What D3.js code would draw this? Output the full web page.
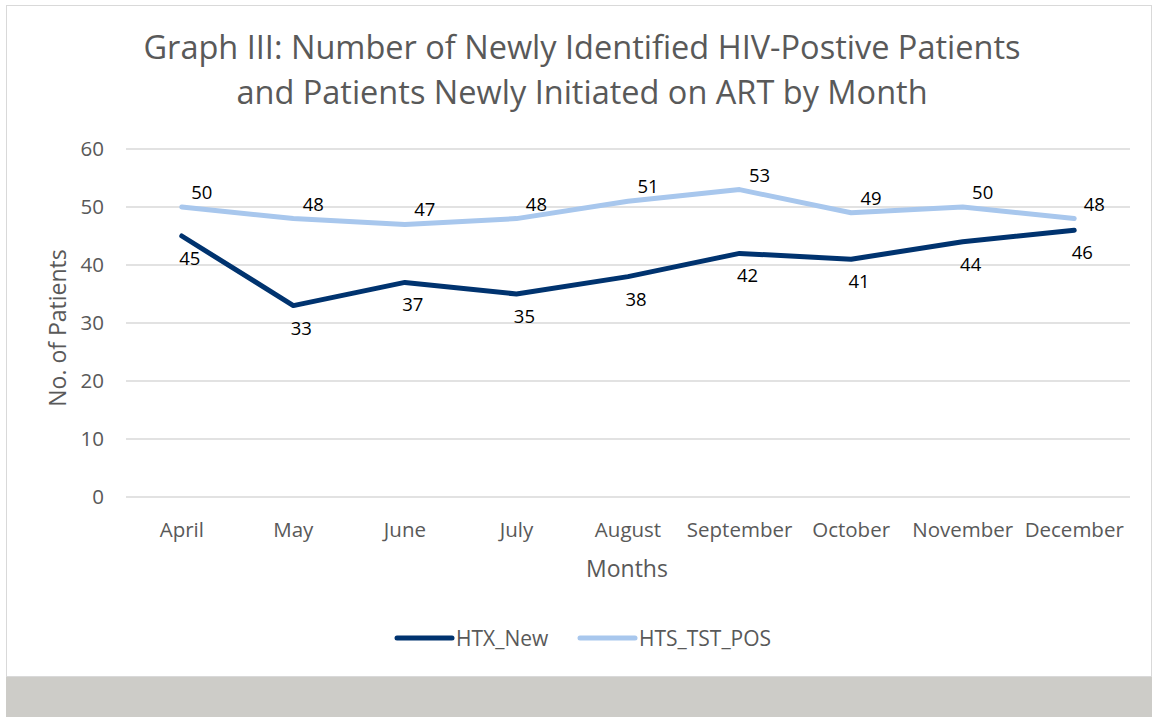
<!DOCTYPE html>
<html>
<head>
<meta charset="utf-8">
<script src="https://cdn.jsdelivr.net/npm/d3@7"></script>
<style>
  body { margin: 0; background: #fff; }
  text { font-family: "Open Sans", "Noto Sans", sans-serif; }
</style>
</head>
<body>
<script>
var width = 1152;
var height = 717;

var months = ["April", "May", "June", "July", "August", "September", "October", "November", "December"];
var htxNew = [45, 33, 37, 35, 38, 42, 41, 44, 46];
var htsTstPos = [50, 48, 47, 48, 51, 53, 49, 50, 48];
var yTicks = [0, 10, 20, 30, 40, 50, 60];

var series = [
  {name: "HTX_New", values: htxNew, color: "#00336f", labelDx: 8, labelDy: 29},
  {name: "HTS_TST_POS", values: htsTstPos, color: "#a8c7ed", labelDx: 20, labelDy: -8}
];

var svg = d3.select("body")
  .append("svg")
  .attr("width", width)
  .attr("height", height);

// frame + grey band at bottom
svg.append("rect")
  .attr("x", 6.5).attr("y", 5.5)
  .attr("width", width - 7).attr("height", 671)
  .attr("fill", "#fff")
  .attr("stroke", "#d9d9d9");
svg.append("rect")
  .attr("x", 6).attr("y", 677)
  .attr("width", width - 6).attr("height", 40)
  .attr("fill", "#cdccc8");

var x = d3.scaleBand()
  .domain(months)
  .range([126, 1130]);

var y = d3.scaleLinear()
  .domain([0, 60])
  .range([497, 149]);

// title
var title = svg.append("text")
  .attr("text-anchor", "middle")
  .attr("fill", "#595959")
  .style("font-size", "32.5px");
title.append("tspan").attr("x", 582).attr("y", 59)
  .text("Graph III: Number of Newly Identified HIV-Postive Patients");
title.append("tspan").attr("x", 582).attr("y", 104)
  .text("and Patients Newly Initiated on ART by Month");

// gridlines
svg.append("g")
  .selectAll("line")
  .data(yTicks)
  .enter()
  .append("line")
  .attr("x1", 126).attr("x2", 1130)
  .attr("y1", function(d) { return y(d); })
  .attr("y2", function(d) { return y(d); })
  .attr("stroke", "#d9d9d9")
  .attr("stroke-width", 1.5);

// y axis labels
var yAxis = svg.append("g")
  .attr("transform", "translate(104,0)")
  .call(d3.axisLeft(y).tickValues(yTicks).tickSize(0).tickPadding(0));
yAxis.select(".domain").remove();
yAxis.selectAll("text")
  .attr("fill", "#595959")
  .style("font-size", "20.5px")
  .style("font-family", "'Open Sans', sans-serif");

// x axis labels
var xAxis = svg.append("g")
  .attr("transform", "translate(0,522)")
  .call(d3.axisBottom(x).tickSize(0).tickPadding(0));
xAxis.select(".domain").remove();
xAxis.selectAll("text")
  .attr("fill", "#595959")
  .style("font-size", "20.5px")
  .style("font-family", "'Open Sans', sans-serif");

// axis titles
svg.append("text")
  .attr("transform", "translate(66,328) rotate(-90)")
  .attr("text-anchor", "middle")
  .attr("fill", "#595959")
  .style("font-size", "23px")
  .text("No. of Patients");

svg.append("text")
  .attr("x", 627).attr("y", 577)
  .attr("text-anchor", "middle")
  .attr("fill", "#595959")
  .style("font-size", "23px")
  .text("Months");

var line = d3.line()
  .x(function(d, i) { return x(months[i]) + x.bandwidth() / 2; })
  .y(function(d) { return y(d); });

// lines (light one drawn second, like the reference)
series.forEach(function(s) {
  svg.append("path")
    .datum(s.values)
    .attr("d", line)
    .attr("fill", "none")
    .attr("stroke", s.color)
    .attr("stroke-width", 5)
    .attr("stroke-linecap", "round")
    .attr("stroke-linejoin", "round");
});

// data labels
series.forEach(function(s) {
  svg.append("g")
    .selectAll("text")
    .data(s.values)
    .enter()
    .append("text")
    .attr("x", function(d, i) { return x(months[i]) + x.bandwidth() / 2 + s.labelDx; })
    .attr("y", function(d) { return y(d) + s.labelDy; })
    .attr("text-anchor", "middle")
    .attr("fill", "#000")
    .style("font-size", "18.5px")
    .text(function(d) { return d; });
});

// legend
var legendX = [395, 578];
var legend = svg.append("g")
  .selectAll("g")
  .data(series)
  .enter()
  .append("g")
  .attr("transform", function(d, i) { return "translate(" + legendX[i] + ",638)"; });
legend.append("line")
  .attr("x1", 2).attr("x2", 57)
  .attr("stroke", function(d) { return d.color; })
  .attr("stroke-width", 5)
  .attr("stroke-linecap", "round");
legend.append("text")
  .attr("x", 61).attr("y", 7.5)
  .attr("fill", "#595959")
  .style("font-size", "21px")
  .text(function(d) { return d.name; });
</script>
</body>
</html>
